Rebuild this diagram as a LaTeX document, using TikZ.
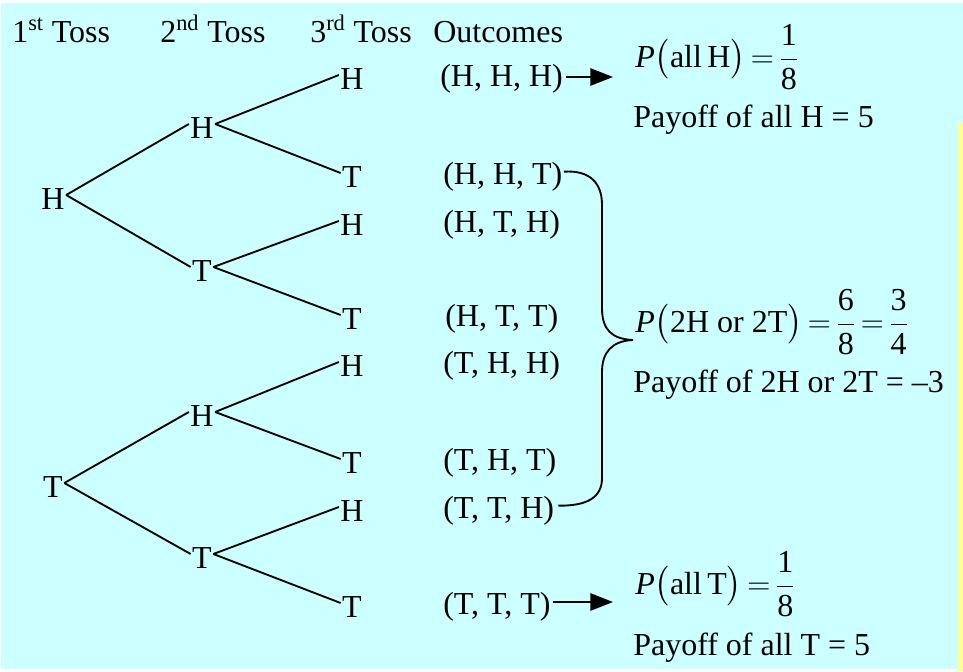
\RequirePackage{fix-cm}
\documentclass[tikz,border=0pt]{standalone}
\usepackage{amsmath}
\usepackage{fontspec}
\setmainfont{Liberation Serif}
\usetikzlibrary{arrows.meta}
\definecolor{paleaqua}{HTML}{CCFFFF}
\definecolor{paleyellow}{HTML}{FFFF99}

\begin{document}
\begin{tikzpicture}[
      x=0.75pt, y=-0.75pt,
      font=\fontsize{24}{29}\selectfont,
      coin/.style={inner sep=1pt, text height=16pt, text depth=0pt},
      header/.style={anchor=base west, inner sep=0pt},
      outcome/.style={anchor=west, inner sep=0pt},
      result/.style={anchor=west, inner sep=0pt, execute at begin node={\thickmuskip=3mu}},
      branch/.style={line width=1.4pt},
      pointer/.style={-{Triangle[length=17pt, width=13pt]}, line width=1.4pt, shorten <=2pt},
      brace/.style={line width=1.4pt}
    ]
    \useasboundingbox (0,0) rectangle (963,671);
    \fill[paleaqua] (1,3) rectangle (963,669);
    \fill[paleyellow] (958,123) rectangle (963,671);

    % column titles
    \node[header] (toss1) at (12,42) {1\textsuperscript{st} Toss};
    \node[header] (toss2) at (160,42) {2\textsuperscript{nd} Toss};
    \node[header] (toss3) at (310,42) {3\textsuperscript{rd} Toss};
    \node[header] (outc) at (433,42) {Outcomes};

    % tree
    \node[coin] (h) at (53,199) {H};
    \node[coin] (t) at (53,487) {T};
    \node[coin] (hh) at (202,128) {H};
    \node[coin] (ht) at (202,271) {T};
    \node[coin] (th) at (202,416) {H};
    \node[coin] (tt) at (202,558) {T};
    \node[coin] (hhh) at (352,79) {H};
    \node[coin] (hht) at (352,177) {T};
    \node[coin] (hth) at (352,225) {H};
    \node[coin] (htt) at (352,319) {T};
    \node[coin] (thh) at (352,366) {H};
    \node[coin] (tht) at (352,463) {T};
    \node[coin] (tth) at (352,511) {H};
    \node[coin] (ttt) at (352,607) {T};

    \draw[branch] ([yshift=3pt]h.east) -- ([yshift=3pt]hh.west);
    \draw[branch] ([yshift=3pt]h.east) -- ([yshift=3pt]ht.west);
    \draw[branch] ([yshift=3pt]t.east) -- ([yshift=3pt]th.west);
    \draw[branch] ([yshift=3pt]t.east) -- ([yshift=3pt]tt.west);
    \draw[branch] ([yshift=3pt]hh.east) -- ([yshift=3pt]hhh.west);
    \draw[branch] ([yshift=3pt]hh.east) -- ([yshift=3pt]hht.west);
    \draw[branch] ([yshift=3pt]ht.east) -- ([yshift=3pt]hth.west);
    \draw[branch] ([yshift=3pt]ht.east) -- ([yshift=3pt]htt.west);
    \draw[branch] ([yshift=3pt]th.east) -- ([yshift=3pt]thh.west);
    \draw[branch] ([yshift=3pt]th.east) -- ([yshift=3pt]tht.west);
    \draw[branch] ([yshift=3pt]tt.east) -- ([yshift=3pt]tth.west);
    \draw[branch] ([yshift=3pt]tt.east) -- ([yshift=3pt]ttt.west);

    % outcomes
    \node[outcome] (o-hhh) at (440,79) {(H, H, H)};
    \node[outcome] (o-hht) at (443,177) {(H, H, T)};
    \node[outcome] (o-hth) at (443,225) {(H, T, H)};
    \node[outcome] (o-htt) at (445,319) {(H, T, T)};
    \node[outcome] (o-thh) at (443,366) {(T, H, H)};
    \node[outcome] (o-tht) at (443,463) {(T, H, T)};
    \node[outcome] (o-tth) at (443,511) {(T, T, H)};
    \node[outcome] (o-ttt) at (443,607) {(T, T, T)};

    % probabilities and payoffs
    \node[result] (p-h) at (635,57) {$\mathit{P}\bigl(\text{all\,H}\bigr)=\dfrac{\text{1}}{\text{8}}$};
    \node[header] (pay-h) at (633,127) {Payoff of all H = 5};
    \node[result] (p-mix) at (635,322) {$\mathit{P}\bigl(\text{2H or 2T}\bigr)=\dfrac{\text{6}}{\text{8}}=\dfrac{\text{3}}{\text{4}}$};
    \node[header] (pay-mix) at (633,392) {Payoff of 2H or 2T = –3};
    \node[result] (p-t) at (635,584) {$\mathit{P}\bigl(\text{all\,T}\bigr)=\dfrac{\text{1}}{\text{8}}$};
    \node[header] (pay-t) at (633,655) {Payoff of all T = 5};

    % arrows and brace
    \coordinate (tip-h) at (613,77);
    \coordinate (tip-t) at (613,602);
    \coordinate (brace-tip) at (633,340);
    \draw[pointer] (o-hhh.east |- tip-h) -- (tip-h);
    \draw[pointer] (o-ttt.east |- tip-t) -- (tip-t);
    \draw[brace] ([xshift=1pt,yshift=4pt]o-hht.east) .. controls (590,170) and (602,183) .. (602,205)
      -- (602,308) .. controls (602,330) and (612,339) .. (brace-tip)
      .. controls (612,341) and (602,352) .. (602,372)
      -- (602,478) .. controls (602,497) and (588,506) .. ([xshift=3pt,yshift=4pt]o-tth.east);
  \end{tikzpicture}
\end{document}
